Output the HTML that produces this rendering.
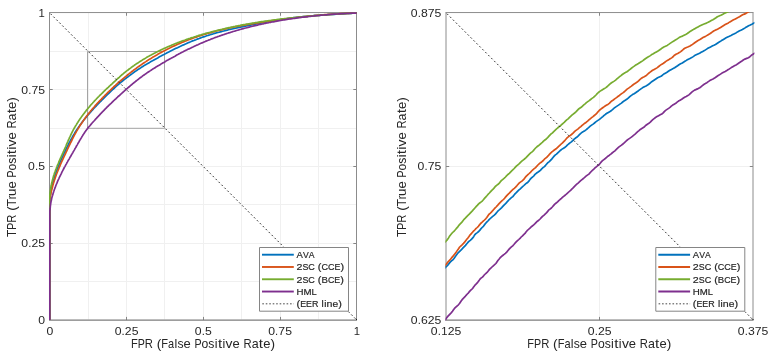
<!DOCTYPE html>
<html><head><meta charset="utf-8"><title>ROC curves</title>
<style>
html,body{margin:0;padding:0;background:#fff;}
body{width:775px;height:356px;overflow:hidden;font-family:"Liberation Sans",sans-serif;}
svg{display:block;will-change:transform;opacity:0.999;}
</style></head><body>
<svg width="775" height="356" viewBox="0 0 775 356" font-family="'Liberation Sans', sans-serif" stroke-linejoin="round">
<rect width="775" height="356" fill="#fff"/>
<clipPath id="c0"><rect x="48.90" y="11.90" width="309.00" height="308.90"/></clipPath>
<path d="M88.50,12.50 V319.50 M126.50,12.50 V319.50 M164.50,12.50 V319.50 M203.50,12.50 V319.50 M241.50,12.50 V319.50 M280.50,12.50 V319.50 M318.50,12.50 V319.50 M49.50,281.50 H356.50 M49.50,243.50 H356.50 M49.50,204.50 H356.50 M49.50,166.50 H356.50 M49.50,128.50 H356.50 M49.50,89.50 H356.50 M49.50,51.50 H356.50" stroke="#f0f0f0" stroke-width="1" fill="none"/>
<path d="M126.50,320.10 v-3.20 M126.50,12.55 v3.20 M203.50,320.10 v-3.20 M203.50,12.55 v3.20 M280.50,320.10 v-3.20 M280.50,12.55 v3.20 M49.50,243.50 h3.20 M356.50,243.50 h-3.20 M49.50,166.50 h3.20 M356.50,166.50 h-3.20 M49.50,89.50 h3.20 M356.50,89.50 h-3.20" stroke="#858585" stroke-width="1" fill="none"/>
<path d="M49.00,12.55 H357.00 M49.50,12.55 V320.10 M356.50,12.55 V320.10" fill="none" stroke="#8c8c8c" stroke-width="1"/>
<path d="M49.00,320.10 H357.00" fill="none" stroke="#7c7c7c" stroke-width="1.15"/>
<rect x="87.5" y="51.5" width="77" height="76.8" fill="none" stroke="#a4a4a4" stroke-width="1"/>
<g clip-path="url(#c0)" fill="none" stroke-linejoin="round" stroke-linecap="butt">
<path d="M49.8,320.0 L49.8,318.5 L49.8,317.1 L49.8,315.6 L49.8,314.1 L49.8,312.7 L49.8,311.2 L49.8,309.7 L49.8,308.3 L49.8,306.8 L49.8,305.3 L49.8,303.9 L49.8,302.4 L49.8,300.9 L49.8,299.5 L49.8,298.0 L49.8,296.6 L49.8,295.1 L49.8,293.6 L49.8,292.2 L49.8,290.7 L49.8,289.2 L49.8,287.8 L49.8,286.3 L49.8,284.8 L49.8,283.4 L49.8,281.9 L49.8,280.4 L49.8,279.0 L49.8,277.5 L49.8,276.0 L49.8,274.6 L49.8,273.1 L49.8,271.6 L49.8,270.2 L49.8,268.7 L49.8,267.2 L49.8,265.8 L49.8,264.3 L49.8,262.8 L49.8,261.4 L49.8,259.9 L49.8,258.5 L49.8,257.0 L49.8,255.5 L49.8,254.1 L49.8,252.6 L49.8,251.1 L49.8,249.7 L49.8,248.2 L49.8,246.7 L49.8,245.3 L49.8,243.8 L49.8,242.3 L49.8,240.9 L49.8,239.4 L49.8,237.9 L49.8,236.5 L49.8,235.0 L49.8,233.5 L49.8,232.1 L49.8,230.6 L49.8,229.1 L49.8,227.9 L49.8,227.7 L49.8,226.2 L49.8,224.7 L49.8,223.2 L49.8,221.6 L49.8,220.0 L49.8,218.5 L49.8,216.9 L49.8,215.3 L49.8,213.7 L49.8,212.2 L49.8,210.7 L49.8,209.3 L49.8,207.9 L49.8,206.5 L49.8,205.1 L49.8,203.7 L49.8,202.3 L49.8,201.0 L49.8,199.8 L49.8,199.7 L49.8,198.4 L49.9,197.1 L50.1,195.8 L50.3,194.5 L50.5,193.3 L50.7,192.0 L50.9,190.9 L51.0,190.8 L51.2,189.6 L51.5,188.4 L51.7,187.2 L52.0,186.0 L52.3,184.8 L52.6,183.6 L52.9,182.5 L53.2,181.3 L53.4,180.6 L53.5,180.2 L53.9,179.0 L54.2,177.9 L54.6,176.8 L54.9,175.7 L55.3,174.6 L55.7,173.5 L56.0,172.4 L56.4,171.3 L56.6,170.9 L56.8,170.3 L57.2,169.2 L57.6,168.2 L58.0,167.1 L58.5,166.1 L58.9,165.0 L59.3,164.0 L59.7,162.9 L60.2,161.9 L60.6,160.9 L61.1,159.9 L61.5,158.9 L62.0,157.9 L62.4,156.8 L62.9,155.8 L63.4,154.8 L63.8,153.8 L64.3,152.9 L64.8,151.9 L65.3,150.9 L65.7,149.9 L66.2,148.9 L66.7,147.9 L66.8,147.6 L67.2,146.9 L67.7,146.0 L68.2,145.0 L68.6,144.0 L69.1,143.0 L69.6,142.1 L70.1,141.1 L70.6,140.1 L71.2,139.2 L71.7,138.2 L72.2,137.3 L72.7,136.3 L72.8,136.1 L73.3,135.4 L73.8,134.5 L74.4,133.6 L74.9,132.7 L75.5,131.8 L76.0,130.9 L76.6,130.0 L77.2,129.1 L77.8,128.2 L78.4,127.4 L79.0,126.5 L79.6,125.7 L80.2,124.8 L80.9,124.0 L81.5,123.1 L82.1,122.3 L82.7,121.5 L83.4,120.6 L83.6,120.4 L84.0,119.8 L84.7,119.0 L85.3,118.2 L86.0,117.4 L86.7,116.6 L87.3,115.8 L88.0,115.0 L88.0,115.0 L88.7,114.2 L89.4,113.4 L90.1,112.7 L90.7,111.9 L91.4,111.1 L91.6,110.9 L92.1,110.3 L92.8,109.6 L93.5,108.8 L94.2,108.0 L94.9,107.3 L95.6,106.5 L96.4,105.8 L97.1,105.0 L97.8,104.3 L98.5,103.5 L99.2,102.8 L100.0,102.0 L100.7,101.3 L101.4,100.6 L102.1,99.8 L102.9,99.1 L103.6,98.4 L104.3,97.6 L105.1,96.9 L105.8,96.2 L106.6,95.4 L107.3,94.7 L108.0,94.0 L108.6,93.5 L108.8,93.3 L109.5,92.6 L110.3,91.8 L111.0,91.1 L111.8,90.4 L112.5,89.7 L113.3,89.0 L114.1,88.3 L114.8,87.6 L115.6,86.9 L116.4,86.2 L117.1,85.5 L117.9,84.8 L118.7,84.1 L119.5,83.5 L119.8,83.2 L120.3,82.8 L121.1,82.1 L121.9,81.5 L122.7,80.8 L123.5,80.2 L124.3,79.5 L125.2,78.9 L126.0,78.2 L126.8,77.6 L127.7,77.0 L128.5,76.4 L129.1,75.9 L129.3,75.7 L130.2,75.1 L131.0,74.5 L131.9,73.9 L132.7,73.3 L133.6,72.6 L134.4,72.0 L135.3,71.4 L136.2,70.8 L137.0,70.2 L137.9,69.6 L138.8,69.1 L139.7,68.5 L140.5,67.9 L140.9,67.7 L141.4,67.3 L142.3,66.8 L143.2,66.2 L144.1,65.6 L145.1,65.1 L146.0,64.5 L146.9,64.0 L147.8,63.4 L148.7,62.9 L149.7,62.4 L150.6,61.8 L151.5,61.3 L152.5,60.8 L153.4,60.3 L154.4,59.7 L155.3,59.2 L156.3,58.7 L156.7,58.5 L157.2,58.2 L158.1,57.7 L159.1,57.1 L160.0,56.6 L161.0,56.1 L161.9,55.6 L162.9,55.1 L163.9,54.6 L164.7,54.1 L164.8,54.1 L165.8,53.6 L166.7,53.1 L167.7,52.6 L168.7,52.1 L169.6,51.6 L170.6,51.1 L171.6,50.6 L172.6,50.1 L173.5,49.6 L174.5,49.1 L175.5,48.6 L176.5,48.1 L177.5,47.7 L178.5,47.2 L179.5,46.7 L180.5,46.3 L181.5,45.8 L182.5,45.3 L183.5,44.9 L184.5,44.4 L185.5,44.0 L186.5,43.5 L187.5,43.1 L188.6,42.6 L189.6,42.2 L190.6,41.8 L191.7,41.3 L192.7,40.9 L193.8,40.5 L194.8,40.1 L195.9,39.7 L196.9,39.3 L198.0,38.9 L199.1,38.5 L200.1,38.1 L201.2,37.7 L202.3,37.3 L203.4,36.9 L203.6,36.9 L204.5,36.6 L205.6,36.2 L206.7,35.8 L207.8,35.5 L208.9,35.1 L210.0,34.8 L211.1,34.4 L212.3,34.1 L213.4,33.8 L214.5,33.4 L215.7,33.1 L216.8,32.8 L218.0,32.5 L219.1,32.2 L220.3,31.9 L221.4,31.6 L222.6,31.3 L223.8,31.0 L224.9,30.7 L226.1,30.4 L227.3,30.1 L228.5,29.8 L229.7,29.5 L230.9,29.2 L232.0,29.0 L233.2,28.7 L234.4,28.4 L235.6,28.2 L236.8,27.9 L238.0,27.6 L239.2,27.4 L240.5,27.1 L241.4,26.9 L241.7,26.9 L242.9,26.6 L244.1,26.4 L245.3,26.1 L246.5,25.9 L247.7,25.6 L249.0,25.4 L250.2,25.1 L251.4,24.9 L252.6,24.7 L253.9,24.4 L255.1,24.2 L256.3,24.0 L257.6,23.7 L258.8,23.5 L260.0,23.3 L261.3,23.0 L262.5,22.8 L263.7,22.6 L265.0,22.3 L265.2,22.3 L266.2,22.1 L267.4,21.9 L268.7,21.7 L269.9,21.4 L271.2,21.2 L272.4,21.0 L273.7,20.8 L274.9,20.5 L276.2,20.3 L277.4,20.1 L278.7,19.9 L279.9,19.7 L280.2,19.7 L281.2,19.5 L282.5,19.3 L283.7,19.1 L285.0,18.9 L286.3,18.8 L287.6,18.6 L288.9,18.4 L290.2,18.2 L291.5,18.1 L292.8,17.9 L294.1,17.7 L295.4,17.6 L296.7,17.4 L298.0,17.3 L299.3,17.1 L300.7,17.0 L302.0,16.9 L303.3,16.7 L304.6,16.6 L306.0,16.5 L307.3,16.3 L308.7,16.2 L310.0,16.1 L311.4,16.0 L312.7,15.8 L314.1,15.7 L315.4,15.6 L316.8,15.5 L318.1,15.4 L318.3,15.4 L319.5,15.3 L320.8,15.2 L322.2,15.1 L323.6,15.0 L324.9,14.9 L326.3,14.8 L327.7,14.7 L329.1,14.6 L330.4,14.5 L331.8,14.4 L333.2,14.3 L334.6,14.3 L335.9,14.2 L337.3,14.1 L338.7,14.0 L340.1,13.9 L341.5,13.8 L342.9,13.8 L344.2,13.7 L345.6,13.6 L347.0,13.5 L348.4,13.5 L349.8,13.4 L351.2,13.3 L352.6,13.2 L354.0,13.2 L355.4,13.1 L356.8,13.0" stroke="#0072BD" stroke-width="1.7"/>
<path d="M49.8,320.0 L49.8,318.5 L49.8,317.1 L49.8,315.6 L49.8,314.1 L49.8,312.7 L49.8,311.2 L49.8,309.7 L49.8,308.3 L49.8,306.8 L49.8,305.3 L49.8,303.9 L49.8,302.4 L49.8,300.9 L49.8,299.5 L49.8,298.0 L49.8,296.6 L49.8,295.1 L49.8,293.6 L49.8,292.2 L49.8,290.7 L49.8,289.2 L49.8,287.8 L49.8,286.3 L49.8,284.8 L49.8,283.4 L49.8,281.9 L49.8,280.4 L49.8,279.0 L49.8,277.5 L49.8,276.0 L49.8,274.6 L49.8,273.1 L49.8,271.6 L49.8,270.2 L49.8,268.7 L49.8,267.2 L49.8,265.8 L49.8,264.3 L49.8,262.8 L49.8,261.4 L49.8,259.9 L49.8,258.5 L49.8,257.0 L49.8,255.5 L49.8,254.1 L49.8,252.6 L49.8,251.1 L49.8,249.7 L49.8,248.2 L49.8,246.7 L49.8,245.3 L49.8,243.8 L49.8,242.3 L49.8,240.9 L49.8,239.4 L49.8,237.9 L49.8,236.5 L49.8,235.0 L49.8,233.5 L49.8,232.1 L49.8,230.6 L49.8,229.1 L49.8,227.9 L49.8,227.7 L49.8,226.2 L49.8,224.7 L49.8,223.2 L49.8,221.6 L49.8,220.0 L49.8,218.5 L49.8,216.9 L49.8,215.3 L49.8,213.8 L49.8,212.3 L49.8,210.8 L49.8,209.4 L49.8,208.0 L49.8,206.6 L49.8,205.2 L49.8,203.9 L49.8,202.8 L49.8,202.6 L49.8,201.2 L49.8,199.9 L50.0,198.7 L50.2,197.4 L50.4,196.1 L50.7,194.9 L50.9,193.6 L51.1,192.4 L51.4,191.2 L51.4,191.0 L51.7,190.0 L52.0,188.9 L52.3,187.7 L52.6,186.5 L52.9,185.4 L53.2,184.2 L53.5,183.1 L53.9,182.0 L54.2,180.9 L54.3,180.6 L54.6,179.8 L55.0,178.7 L55.3,177.6 L55.7,176.5 L56.1,175.4 L56.5,174.3 L56.9,173.3 L57.3,172.2 L57.7,171.2 L57.8,170.9 L58.1,170.1 L58.6,169.1 L59.0,168.0 L59.4,167.0 L59.9,166.0 L60.3,165.0 L60.7,163.9 L61.2,162.9 L61.6,161.9 L62.1,160.9 L62.6,159.9 L63.0,158.9 L63.5,157.9 L63.9,156.9 L64.4,155.9 L64.9,154.9 L65.4,153.9 L65.8,152.9 L66.3,151.9 L66.8,150.9 L67.2,149.9 L67.7,148.9 L68.2,147.9 L68.3,147.7 L68.6,146.9 L69.1,145.9 L69.6,144.9 L70.1,143.9 L70.5,142.9 L71.0,142.0 L71.5,141.0 L72.0,140.0 L72.4,139.0 L72.9,138.0 L73.4,137.1 L73.9,136.1 L74.1,135.8 L74.4,135.1 L74.9,134.2 L75.5,133.2 L76.0,132.3 L76.5,131.4 L77.1,130.4 L77.6,129.5 L78.2,128.6 L78.7,127.7 L79.3,126.8 L79.8,125.9 L80.4,125.0 L81.0,124.1 L81.6,123.2 L82.2,122.4 L82.8,121.5 L83.4,120.6 L83.8,120.0 L84.0,119.8 L84.6,118.9 L85.2,118.1 L85.8,117.2 L86.5,116.4 L87.1,115.6 L87.7,114.7 L88.0,114.4 L88.4,113.9 L89.0,113.1 L89.7,112.3 L90.3,111.5 L90.8,110.9 L91.0,110.7 L91.7,109.9 L92.3,109.1 L93.0,108.3 L93.7,107.5 L94.4,106.7 L95.0,105.9 L95.7,105.1 L96.4,104.4 L97.1,103.6 L97.8,102.8 L98.5,102.1 L98.9,101.6 L99.2,101.3 L99.9,100.6 L100.7,99.8 L101.4,99.1 L102.1,98.3 L102.8,97.6 L103.5,96.8 L104.3,96.1 L105.0,95.3 L105.7,94.6 L106.5,93.9 L106.8,93.6 L107.2,93.2 L107.9,92.4 L108.7,91.7 L109.4,91.0 L110.2,90.3 L110.9,89.6 L111.7,88.8 L112.4,88.1 L113.2,87.4 L113.9,86.7 L114.7,86.0 L115.5,85.3 L116.2,84.6 L117.0,83.9 L117.8,83.2 L118.6,82.5 L118.9,82.2 L119.3,81.9 L120.1,81.2 L120.9,80.5 L121.7,79.8 L122.5,79.1 L123.3,78.5 L124.1,77.8 L124.9,77.1 L125.7,76.5 L126.4,75.9 L126.5,75.8 L127.3,75.2 L128.1,74.5 L128.9,73.9 L129.7,73.2 L130.6,72.6 L131.4,71.9 L132.2,71.3 L133.1,70.7 L133.9,70.0 L134.7,69.4 L135.6,68.8 L136.4,68.2 L137.1,67.6 L137.3,67.5 L138.1,66.9 L139.0,66.3 L139.8,65.7 L140.7,65.1 L141.6,64.5 L142.4,63.9 L143.3,63.3 L144.2,62.7 L145.1,62.1 L145.9,61.6 L146.8,61.0 L147.7,60.4 L148.6,59.8 L149.5,59.3 L150.4,58.7 L151.3,58.2 L151.3,58.2 L152.2,57.6 L153.1,57.0 L154.1,56.5 L155.0,56.0 L155.9,55.4 L156.8,54.9 L157.8,54.3 L158.7,53.8 L159.6,53.3 L160.6,52.8 L161.5,52.2 L162.5,51.7 L163.3,51.3 L163.4,51.2 L164.4,50.7 L165.4,50.2 L166.3,49.7 L167.3,49.2 L168.3,48.7 L169.3,48.2 L170.2,47.8 L171.2,47.3 L172.2,46.8 L173.2,46.3 L174.2,45.9 L175.2,45.4 L176.2,45.0 L177.2,44.5 L178.2,44.0 L179.3,43.6 L180.3,43.2 L181.3,42.7 L182.4,42.3 L183.4,41.9 L184.4,41.4 L185.5,41.0 L186.5,40.6 L187.6,40.2 L188.6,39.8 L189.7,39.4 L190.8,39.0 L191.8,38.6 L192.9,38.2 L194.0,37.8 L195.1,37.4 L196.2,37.1 L197.3,36.7 L198.4,36.3 L199.5,35.9 L200.6,35.6 L201.7,35.2 L202.8,34.9 L203.2,34.8 L203.9,34.5 L205.0,34.2 L206.2,33.9 L207.3,33.5 L208.4,33.2 L209.6,32.9 L210.7,32.6 L211.9,32.2 L213.0,31.9 L214.2,31.6 L215.3,31.3 L216.5,31.0 L217.7,30.7 L218.9,30.4 L220.0,30.1 L221.2,29.9 L222.4,29.6 L223.6,29.3 L224.8,29.0 L226.0,28.8 L227.2,28.5 L228.4,28.2 L229.6,28.0 L230.8,27.7 L232.0,27.5 L233.2,27.2 L234.4,27.0 L235.7,26.7 L236.9,26.5 L238.1,26.2 L239.3,26.0 L240.6,25.8 L241.1,25.7 L241.8,25.5 L243.0,25.3 L244.3,25.1 L245.5,24.9 L246.8,24.7 L248.0,24.4 L249.3,24.2 L250.5,24.0 L251.8,23.8 L253.0,23.6 L254.3,23.4 L255.6,23.2 L256.8,23.0 L258.1,22.8 L259.4,22.6 L260.6,22.4 L261.9,22.2 L263.2,22.0 L264.5,21.8 L265.4,21.7 L265.7,21.6 L267.0,21.4 L268.3,21.3 L269.6,21.1 L270.9,20.9 L272.1,20.7 L273.4,20.5 L274.7,20.4 L276.0,20.2 L277.3,20.0 L278.6,19.8 L279.9,19.7 L280.4,19.6 L281.2,19.5 L282.5,19.3 L283.8,19.1 L285.1,19.0 L286.4,18.8 L287.7,18.6 L289.0,18.5 L290.3,18.3 L291.6,18.2 L292.9,18.0 L294.2,17.8 L295.5,17.7 L296.8,17.5 L298.1,17.4 L299.4,17.2 L300.7,17.1 L302.0,16.9 L303.4,16.8 L304.7,16.6 L306.0,16.5 L307.3,16.3 L308.7,16.2 L310.0,16.1 L311.3,15.9 L312.7,15.8 L314.0,15.7 L315.3,15.5 L316.7,15.4 L318.0,15.3 L318.2,15.3 L319.3,15.2 L320.7,15.0 L322.0,14.9 L323.4,14.8 L324.7,14.7 L326.1,14.6 L327.5,14.5 L328.8,14.4 L330.2,14.3 L331.6,14.2 L332.9,14.1 L334.3,14.0 L335.7,13.9 L337.1,13.8 L338.5,13.8 L339.8,13.7 L341.2,13.6 L342.6,13.5 L344.0,13.5 L345.4,13.4 L346.8,13.3 L348.2,13.3 L349.6,13.2 L351.1,13.2 L352.5,13.1 L353.9,13.1 L355.3,13.0 L356.8,13.0" stroke="#D95319" stroke-width="1.7"/>
<path d="M49.8,320.0 L49.8,318.5 L49.8,317.1 L49.8,315.6 L49.8,314.1 L49.8,312.7 L49.8,311.2 L49.8,309.7 L49.8,308.3 L49.8,306.8 L49.8,305.3 L49.8,303.9 L49.8,302.4 L49.8,300.9 L49.8,299.5 L49.8,298.0 L49.8,296.6 L49.8,295.1 L49.8,293.6 L49.8,292.2 L49.8,290.7 L49.8,289.2 L49.8,287.8 L49.8,286.3 L49.8,284.8 L49.8,283.4 L49.8,281.9 L49.8,280.4 L49.8,279.0 L49.8,277.5 L49.8,276.0 L49.8,274.6 L49.8,273.1 L49.8,271.6 L49.8,270.2 L49.8,268.7 L49.8,267.2 L49.8,265.8 L49.8,264.3 L49.8,262.8 L49.8,261.4 L49.8,259.9 L49.8,258.5 L49.8,257.0 L49.8,255.5 L49.8,254.1 L49.8,252.6 L49.8,251.1 L49.8,249.7 L49.8,248.2 L49.8,246.7 L49.8,245.3 L49.8,243.8 L49.8,242.3 L49.8,240.9 L49.8,239.4 L49.8,237.9 L49.8,236.5 L49.8,235.0 L49.8,233.5 L49.8,232.1 L49.8,230.6 L49.8,229.1 L49.8,227.9 L49.8,227.7 L49.8,226.2 L49.8,224.7 L49.8,223.2 L49.8,221.7 L49.8,220.1 L49.8,218.6 L49.8,217.0 L49.8,215.4 L49.8,213.9 L49.8,212.3 L49.8,210.8 L49.8,209.4 L49.8,207.9 L49.8,206.5 L49.8,205.1 L49.8,203.6 L49.8,202.2 L49.8,200.9 L49.8,199.5 L49.8,198.1 L49.8,196.9 L49.8,196.8 L49.8,195.5 L49.9,194.1 L50.1,192.8 L50.2,191.5 L50.3,190.8 L50.4,190.2 L50.6,189.0 L50.8,187.7 L51.0,186.5 L51.3,185.3 L51.5,184.0 L51.8,182.8 L52.1,181.6 L52.3,180.6 L52.4,180.5 L52.7,179.3 L53.0,178.1 L53.3,177.0 L53.6,175.9 L54.0,174.8 L54.3,173.7 L54.7,172.6 L55.1,171.5 L55.3,170.9 L55.5,170.4 L55.9,169.3 L56.3,168.3 L56.7,167.2 L57.1,166.2 L57.5,165.1 L58.0,164.1 L58.4,163.1 L58.8,162.0 L59.3,161.0 L59.7,160.0 L60.2,159.0 L60.6,157.9 L61.1,156.9 L61.5,155.9 L62.0,154.9 L62.4,153.9 L62.9,152.9 L63.3,151.9 L63.8,150.9 L64.2,149.9 L64.7,148.8 L65.1,148.0 L65.1,147.8 L65.6,146.8 L66.0,145.8 L66.4,144.7 L66.9,143.7 L67.3,142.7 L67.8,141.6 L68.2,140.6 L68.6,139.6 L69.1,138.6 L69.5,137.6 L70.0,136.6 L70.3,135.9 L70.5,135.6 L70.9,134.6 L71.4,133.6 L71.9,132.6 L72.4,131.6 L72.9,130.7 L73.4,129.7 L73.9,128.8 L74.5,127.8 L75.0,126.9 L75.5,126.0 L76.1,125.1 L76.6,124.2 L77.2,123.3 L77.8,122.4 L78.3,121.5 L78.9,120.6 L79.5,119.8 L79.5,119.7 L80.1,118.8 L80.7,118.0 L81.3,117.1 L81.9,116.2 L82.5,115.4 L83.2,114.5 L83.8,113.7 L84.4,112.9 L85.1,112.0 L85.7,111.2 L86.3,110.4 L87.0,109.6 L87.7,108.8 L88.0,108.4 L88.3,108.0 L89.0,107.2 L89.7,106.4 L90.3,105.6 L91.0,104.8 L91.7,104.0 L92.4,103.3 L93.1,102.5 L93.8,101.7 L94.3,101.1 L94.5,101.0 L95.2,100.2 L95.9,99.5 L96.6,98.7 L97.3,98.0 L98.1,97.2 L98.8,96.5 L99.5,95.7 L100.2,95.0 L101.0,94.3 L101.7,93.5 L101.9,93.4 L102.5,92.8 L103.2,92.1 L103.9,91.4 L104.7,90.7 L105.4,89.9 L106.2,89.2 L106.9,88.5 L107.7,87.8 L108.5,87.1 L109.2,86.4 L110.0,85.7 L110.7,85.0 L111.5,84.3 L112.3,83.6 L113.0,82.9 L113.8,82.2 L114.6,81.5 L115.3,80.8 L116.1,80.1 L116.4,79.7 L116.8,79.4 L117.6,78.7 L118.4,78.0 L119.2,77.3 L119.9,76.6 L120.7,75.9 L120.7,75.9 L121.5,75.2 L122.3,74.5 L123.1,73.9 L123.9,73.2 L124.7,72.5 L125.5,71.9 L126.3,71.2 L126.4,71.1 L127.1,70.6 L128.0,70.0 L128.8,69.3 L129.6,68.7 L130.5,68.1 L131.1,67.6 L131.3,67.4 L132.2,66.8 L133.0,66.2 L133.9,65.6 L134.7,65.0 L135.6,64.4 L136.5,63.8 L137.4,63.2 L138.2,62.7 L139.1,62.1 L140.0,61.5 L140.9,60.9 L141.8,60.4 L142.7,59.8 L143.6,59.3 L144.5,58.7 L145.5,58.2 L145.6,58.1 L146.4,57.6 L147.3,57.1 L148.2,56.5 L149.2,56.0 L150.1,55.5 L151.1,55.0 L152.0,54.5 L153.0,54.0 L153.9,53.4 L154.9,52.9 L155.9,52.4 L156.8,52.0 L157.8,51.5 L158.2,51.3 L158.8,51.0 L159.8,50.5 L160.8,50.0 L161.8,49.5 L162.8,49.1 L163.8,48.6 L164.7,48.2 L164.8,48.2 L165.8,47.7 L166.8,47.2 L167.8,46.8 L168.8,46.4 L169.9,45.9 L170.9,45.5 L171.9,45.0 L173.0,44.6 L174.0,44.2 L175.0,43.8 L176.1,43.4 L177.1,42.9 L178.2,42.5 L179.3,42.1 L180.3,41.7 L181.4,41.3 L182.5,40.9 L183.5,40.5 L184.6,40.2 L185.7,39.8 L186.8,39.4 L187.9,39.0 L189.0,38.6 L190.1,38.3 L191.2,37.9 L192.3,37.5 L193.4,37.2 L194.5,36.8 L195.6,36.5 L196.7,36.1 L197.8,35.8 L198.9,35.4 L200.1,35.1 L201.2,34.8 L202.3,34.4 L203.5,34.1 L203.5,34.1 L204.6,33.8 L205.7,33.4 L206.9,33.1 L208.0,32.8 L209.2,32.5 L210.4,32.2 L211.5,31.9 L212.7,31.6 L213.8,31.3 L215.0,31.0 L216.2,30.7 L217.3,30.4 L218.5,30.1 L219.7,29.8 L220.9,29.5 L222.1,29.3 L223.3,29.0 L224.4,28.7 L225.6,28.4 L226.8,28.2 L228.0,27.9 L229.2,27.6 L230.4,27.4 L231.7,27.1 L232.9,26.9 L234.1,26.6 L235.3,26.4 L236.5,26.1 L237.7,25.9 L239.0,25.6 L240.2,25.4 L241.2,25.2 L241.4,25.2 L242.7,24.9 L243.9,24.7 L245.1,24.5 L246.4,24.2 L247.6,24.0 L248.9,23.8 L250.1,23.6 L251.4,23.4 L252.6,23.2 L253.9,23.0 L255.1,22.7 L256.4,22.5 L257.7,22.3 L258.9,22.1 L260.2,21.9 L261.5,21.7 L262.7,21.6 L264.0,21.4 L265.2,21.2 L265.3,21.2 L266.6,21.0 L267.8,20.8 L269.1,20.6 L270.4,20.5 L271.7,20.3 L273.0,20.1 L274.3,19.9 L275.6,19.8 L276.9,19.6 L278.2,19.4 L279.5,19.3 L280.3,19.2 L280.8,19.1 L282.1,18.9 L283.4,18.8 L284.7,18.6 L286.0,18.5 L287.3,18.3 L288.7,18.2 L290.0,18.0 L291.3,17.9 L292.6,17.8 L294.0,17.6 L295.3,17.5 L296.6,17.3 L297.9,17.2 L299.3,17.1 L300.6,16.9 L301.9,16.8 L303.3,16.7 L304.6,16.6 L306.0,16.4 L307.3,16.3 L308.7,16.2 L310.0,16.1 L311.4,16.0 L312.7,15.8 L314.1,15.7 L315.4,15.6 L316.8,15.5 L318.1,15.4 L318.3,15.4 L319.5,15.3 L320.8,15.2 L322.2,15.1 L323.6,15.0 L324.9,14.9 L326.3,14.8 L327.7,14.7 L329.0,14.6 L330.4,14.5 L331.8,14.4 L333.2,14.3 L334.5,14.2 L335.9,14.2 L337.3,14.1 L338.7,14.0 L340.1,13.9 L341.4,13.8 L342.8,13.7 L344.2,13.7 L345.6,13.6 L347.0,13.5 L348.4,13.4 L349.8,13.4 L351.2,13.3 L352.6,13.2 L354.0,13.1 L355.4,13.1 L356.7,13.0" stroke="#77AC30" stroke-width="1.7"/>
<path d="M49.8,320.0 L49.8,318.5 L49.8,317.1 L49.8,315.6 L49.8,314.1 L49.8,312.7 L49.8,311.2 L49.8,309.7 L49.8,308.3 L49.8,306.8 L49.8,305.3 L49.8,303.9 L49.8,302.4 L49.8,300.9 L49.8,299.5 L49.8,298.0 L49.8,296.6 L49.8,295.1 L49.8,293.6 L49.8,292.2 L49.8,290.7 L49.8,289.2 L49.8,287.8 L49.8,286.3 L49.8,284.8 L49.8,283.4 L49.8,281.9 L49.8,280.4 L49.8,279.0 L49.8,277.5 L49.8,276.0 L49.8,274.6 L49.8,273.1 L49.8,271.6 L49.8,270.2 L49.8,268.7 L49.8,267.2 L49.8,265.8 L49.8,264.3 L49.8,262.8 L49.8,261.4 L49.8,259.9 L49.8,258.5 L49.8,257.0 L49.8,255.5 L49.8,254.1 L49.8,252.6 L49.8,251.1 L49.8,249.7 L49.8,248.2 L49.8,246.7 L49.8,245.3 L49.8,243.8 L49.8,242.3 L49.8,240.9 L49.8,239.4 L49.8,237.9 L49.8,236.5 L49.8,235.0 L49.8,234.0 L49.8,233.5 L49.8,232.1 L49.8,230.6 L49.8,229.1 L49.8,227.6 L49.8,226.1 L49.8,224.6 L49.8,223.1 L49.8,221.7 L49.8,220.2 L49.8,218.7 L49.8,217.3 L49.8,215.8 L49.8,214.4 L49.8,213.0 L49.8,213.0 L49.8,211.6 L49.9,210.3 L50.1,209.0 L50.2,207.6 L50.3,207.0 L50.3,206.3 L50.5,205.0 L50.7,203.7 L50.9,202.4 L51.1,201.2 L51.1,201.2 L51.4,200.0 L51.6,198.8 L51.9,197.6 L52.2,196.5 L52.6,195.3 L52.9,194.2 L53.2,193.1 L53.6,192.0 L53.9,190.9 L54.0,190.9 L54.3,189.8 L54.7,188.7 L55.1,187.6 L55.5,186.6 L55.9,185.5 L56.3,184.5 L56.8,183.4 L57.2,182.4 L57.6,181.3 L58.0,180.4 L58.1,180.3 L58.5,179.3 L59.0,178.3 L59.4,177.3 L59.9,176.3 L60.4,175.3 L60.9,174.3 L61.4,173.3 L61.8,172.4 L62.3,171.4 L62.6,170.9 L62.8,170.4 L63.3,169.5 L63.8,168.5 L64.3,167.5 L64.9,166.6 L65.4,165.6 L65.9,164.7 L66.4,163.8 L66.9,162.8 L67.5,161.9 L68.0,160.9 L68.5,160.0 L69.1,159.1 L69.6,158.1 L70.1,157.2 L70.7,156.3 L71.2,155.3 L71.7,154.4 L72.3,153.5 L72.8,152.6 L73.3,151.6 L73.9,150.7 L74.4,149.8 L74.9,148.8 L75.5,147.9 L75.5,147.9 L76.0,147.0 L76.5,146.0 L77.1,145.1 L77.6,144.2 L78.1,143.2 L78.7,142.3 L79.2,141.4 L79.7,140.4 L80.3,139.5 L80.8,138.6 L81.4,137.7 L81.9,136.8 L82.5,135.9 L82.6,135.7 L83.0,135.0 L83.6,134.1 L84.2,133.2 L84.8,132.3 L85.4,131.4 L86.0,130.6 L86.6,129.7 L87.3,128.9 L87.9,128.1 L88.0,127.9 L88.5,127.3 L89.2,126.5 L89.9,125.7 L90.3,125.2 L90.6,124.9 L91.2,124.1 L91.9,123.3 L92.6,122.5 L93.3,121.7 L94.0,121.0 L94.7,120.2 L95.4,119.4 L96.1,118.7 L96.8,117.9 L97.5,117.1 L98.2,116.4 L98.9,115.6 L99.6,114.9 L100.3,114.1 L101.0,113.3 L101.7,112.6 L102.4,111.9 L103.2,111.1 L103.4,110.9 L103.9,110.4 L104.6,109.6 L105.3,108.9 L106.1,108.2 L106.8,107.4 L107.5,106.7 L108.3,106.0 L109.0,105.2 L109.8,104.5 L110.5,103.8 L111.3,103.1 L112.0,102.4 L112.8,101.6 L113.5,100.9 L114.3,100.2 L115.0,99.5 L115.8,98.8 L116.5,98.1 L117.3,97.4 L118.0,96.7 L118.8,96.0 L119.6,95.3 L120.3,94.6 L121.1,93.9 L121.5,93.5 L121.9,93.2 L122.6,92.5 L123.4,91.8 L124.2,91.1 L125.0,90.4 L125.7,89.7 L126.1,89.4 L126.5,89.0 L127.3,88.4 L128.1,87.7 L128.9,87.0 L129.7,86.3 L130.4,85.6 L131.2,85.0 L132.0,84.3 L132.8,83.6 L133.6,83.0 L134.4,82.3 L135.3,81.7 L136.1,81.0 L136.9,80.4 L137.7,79.7 L138.5,79.1 L139.0,78.7 L139.4,78.4 L140.2,77.8 L141.0,77.2 L141.9,76.6 L142.1,76.4 L142.7,75.9 L143.6,75.3 L144.4,74.7 L145.3,74.1 L146.2,73.5 L147.0,72.9 L147.9,72.3 L148.8,71.7 L149.7,71.1 L150.5,70.6 L151.4,70.0 L152.3,69.4 L153.2,68.8 L154.1,68.3 L155.0,67.7 L155.1,67.7 L155.9,67.1 L156.8,66.6 L157.7,66.0 L158.6,65.5 L159.6,64.9 L160.5,64.4 L161.4,63.8 L162.3,63.3 L163.2,62.7 L164.2,62.2 L164.7,61.9 L165.1,61.7 L166.0,61.1 L166.9,60.6 L167.9,60.1 L168.8,59.5 L169.7,59.0 L170.7,58.5 L171.6,57.9 L172.6,57.4 L173.5,56.9 L174.5,56.4 L175.4,55.9 L176.4,55.3 L177.3,54.8 L178.3,54.3 L179.2,53.8 L180.2,53.3 L181.1,52.8 L182.1,52.3 L183.1,51.8 L184.0,51.3 L185.0,50.8 L186.0,50.3 L187.0,49.8 L187.9,49.3 L188.9,48.9 L189.9,48.4 L190.9,47.9 L191.9,47.4 L192.9,47.0 L193.9,46.5 L194.9,46.0 L195.9,45.6 L196.9,45.1 L197.9,44.7 L198.9,44.2 L199.9,43.7 L200.9,43.3 L202.0,42.9 L203.0,42.4 L203.6,42.2 L204.0,42.0 L205.1,41.6 L206.1,41.1 L207.1,40.7 L208.2,40.3 L209.2,39.9 L210.3,39.5 L211.3,39.0 L212.4,38.6 L213.5,38.2 L214.5,37.8 L215.6,37.4 L216.7,37.0 L217.7,36.6 L218.8,36.3 L219.9,35.9 L221.0,35.5 L222.1,35.1 L223.2,34.7 L224.3,34.4 L225.4,34.0 L226.5,33.6 L227.6,33.3 L228.7,32.9 L229.8,32.6 L230.9,32.2 L232.0,31.9 L233.1,31.5 L234.3,31.2 L235.4,30.9 L236.5,30.5 L237.7,30.2 L238.8,29.9 L239.9,29.5 L241.1,29.2 L241.2,29.2 L242.2,28.9 L243.4,28.6 L244.5,28.3 L245.7,28.0 L246.9,27.7 L248.0,27.4 L249.2,27.1 L250.4,26.8 L251.5,26.5 L252.7,26.2 L253.9,25.9 L255.1,25.6 L256.3,25.4 L257.5,25.1 L258.7,24.8 L259.9,24.5 L261.1,24.3 L262.3,24.0 L263.5,23.8 L264.7,23.5 L265.2,23.4 L265.9,23.2 L267.1,23.0 L268.3,22.8 L269.5,22.5 L270.8,22.3 L272.0,22.0 L273.2,21.8 L274.5,21.6 L275.7,21.3 L276.9,21.1 L278.2,20.9 L279.4,20.7 L280.4,20.5 L280.7,20.5 L281.9,20.2 L283.2,20.0 L284.4,19.8 L285.7,19.6 L287.0,19.4 L288.2,19.2 L289.5,19.0 L290.8,18.8 L292.1,18.6 L293.3,18.5 L294.6,18.3 L295.9,18.1 L297.2,17.9 L298.5,17.7 L299.8,17.6 L301.1,17.4 L302.4,17.2 L303.7,17.1 L305.0,16.9 L306.3,16.8 L307.6,16.6 L308.9,16.5 L310.2,16.3 L311.6,16.2 L312.9,16.0 L314.2,15.9 L315.5,15.7 L316.9,15.6 L318.2,15.5 L318.2,15.5 L319.5,15.4 L320.9,15.2 L322.2,15.1 L323.6,15.0 L324.9,14.9 L326.3,14.8 L327.6,14.7 L329.0,14.5 L330.3,14.4 L331.7,14.3 L333.1,14.2 L334.5,14.1 L335.8,14.1 L337.2,14.0 L338.6,13.9 L340.0,13.8 L341.3,13.7 L342.7,13.6 L344.1,13.6 L345.5,13.5 L346.9,13.4 L348.3,13.3 L349.7,13.3 L351.1,13.2 L352.5,13.2 L353.9,13.1 L355.3,13.1 L356.8,13.0" stroke="#7E2F8E" stroke-width="1.7"/>
<path d="M49.75,13.00 L356.75,320.00" stroke="#262626" stroke-width="0.95" stroke-dasharray="1.8 2.37" stroke-dashoffset="-1.02"/>
</g>
<rect x="356.00" y="319.00" width="1" height="1" fill="#1a1a1a"/>
<g transform="translate(46.41 334.50)" font-size="11.303" fill="#262626"><text transform="translate(0.00 0) scale(1.080 1)">0</text></g>
<g transform="translate(114.67 334.50)" font-size="11.303" fill="#262626"><text transform="translate(0.00 0) scale(1.080 1)">0</text><text transform="translate(6.91 0) scale(1.000 1)">.</text><text transform="translate(10.18 0) scale(1.080 1)">2</text><text transform="translate(16.96 0) scale(1.080 1)">5</text></g>
<g transform="translate(194.82 334.50)" font-size="11.303" fill="#262626"><text transform="translate(0.00 0) scale(1.080 1)">0</text><text transform="translate(6.91 0) scale(1.000 1)">.</text><text transform="translate(10.18 0) scale(1.080 1)">5</text></g>
<g transform="translate(268.17 334.50)" font-size="11.303" fill="#262626"><text transform="translate(0.00 0) scale(1.080 1)">0</text><text transform="translate(6.91 0) scale(1.000 1)">.</text><text transform="translate(10.18 0) scale(1.080 1)">7</text><text transform="translate(16.96 0) scale(1.080 1)">5</text></g>
<g transform="translate(353.41 334.50)" font-size="11.303" fill="#262626"><text transform="translate(0.25 0) scale(1.000 1)">1</text></g>
<g transform="translate(38.21 323.80)" font-size="11.303" fill="#262626"><text transform="translate(0.00 0) scale(1.080 1)">0</text></g>
<g transform="translate(21.25 247.05)" font-size="11.303" fill="#262626"><text transform="translate(0.00 0) scale(1.080 1)">0</text><text transform="translate(6.91 0) scale(1.000 1)">.</text><text transform="translate(10.18 0) scale(1.080 1)">2</text><text transform="translate(16.96 0) scale(1.080 1)">5</text></g>
<g transform="translate(28.04 170.30)" font-size="11.303" fill="#262626"><text transform="translate(0.00 0) scale(1.080 1)">0</text><text transform="translate(6.91 0) scale(1.000 1)">.</text><text transform="translate(10.18 0) scale(1.080 1)">5</text></g>
<g transform="translate(21.25 93.55)" font-size="11.303" fill="#262626"><text transform="translate(0.00 0) scale(1.080 1)">0</text><text transform="translate(6.91 0) scale(1.000 1)">.</text><text transform="translate(10.18 0) scale(1.080 1)">7</text><text transform="translate(16.96 0) scale(1.080 1)">5</text></g>
<g transform="translate(38.21 16.80)" font-size="11.303" fill="#262626"><text transform="translate(0.25 0) scale(1.000 1)">1</text></g>
<g transform="translate(131.05 348.30)" font-size="12.432" fill="#262626"><text transform="translate(0.00 0) scale(0.889 1)">F</text><text transform="translate(6.72 0) scale(0.860 1)">P</text><text transform="translate(13.82 0) scale(0.908 1)">R</text><text transform="translate(25.71 0) scale(1.106 1)">(</text><text transform="translate(30.28 0) scale(0.889 1)">F</text><text transform="translate(37.03 0) scale(0.884 1)">a</text><text transform="translate(43.39 0) scale(1.000 1)">l</text><text transform="translate(46.41 0) scale(0.983 1)">s</text><text transform="translate(52.52 0) scale(1.044 1)">e</text><text transform="translate(63.44 0) scale(0.860 1)">P</text><text transform="translate(70.54 0) scale(0.978 1)">o</text><text transform="translate(77.30 0) scale(0.983 1)">s</text><text transform="translate(83.66 0) scale(1.000 1)">i</text><text transform="translate(86.87 0) scale(1.220 1)">t</text><text transform="translate(91.52 0) scale(1.000 1)">i</text><text transform="translate(94.53 0) scale(1.117 1)">v</text><text transform="translate(101.48 0) scale(1.044 1)">e</text><text transform="translate(112.43 0) scale(0.908 1)">R</text><text transform="translate(120.58 0) scale(1.003 1)">a</text><text transform="translate(127.70 0) scale(1.220 1)">t</text><text transform="translate(132.11 0) scale(1.044 1)">e</text><text transform="translate(139.33 0) scale(1.106 1)">)</text></g>
<g transform="rotate(-90 16.20 167.00) translate(-53.70 167.00)" font-size="12.432" fill="#262626"><text transform="translate(0.00 0) scale(0.944 1)">T</text><text transform="translate(7.14 0) scale(0.860 1)">P</text><text transform="translate(14.24 0) scale(0.908 1)">R</text><text transform="translate(26.12 0) scale(1.106 1)">(</text><text transform="translate(30.70 0) scale(0.944 1)">T</text><text transform="translate(37.64 0) scale(0.860 1)">r</text><text transform="translate(40.97 0) scale(1.076 1)">u</text><text transform="translate(48.40 0) scale(1.044 1)">e</text><text transform="translate(59.33 0) scale(0.860 1)">P</text><text transform="translate(66.43 0) scale(0.978 1)">o</text><text transform="translate(73.19 0) scale(0.983 1)">s</text><text transform="translate(79.55 0) scale(1.000 1)">i</text><text transform="translate(82.75 0) scale(1.220 1)">t</text><text transform="translate(87.41 0) scale(1.000 1)">i</text><text transform="translate(90.42 0) scale(1.117 1)">v</text><text transform="translate(97.37 0) scale(1.044 1)">e</text><text transform="translate(108.31 0) scale(0.908 1)">R</text><text transform="translate(116.47 0) scale(1.003 1)">a</text><text transform="translate(123.59 0) scale(1.220 1)">t</text><text transform="translate(128.00 0) scale(1.044 1)">e</text><text transform="translate(135.22 0) scale(1.106 1)">)</text></g>
<rect x="259.50" y="247.50" width="89.00" height="63.70" fill="#fff" stroke="#858585" stroke-width="1"/>
<path d="M262.00,254.70 H293.80" stroke="#0072BD" stroke-width="1.9"/>
<g transform="translate(296.50 258.20)" font-size="9.889" fill="#262626" stroke="#262626" stroke-width="0.20"><text transform="translate(0.00 0) scale(0.968 1)">A</text><text transform="translate(6.38 0) scale(0.877 1)">V</text><text transform="translate(12.17 0) scale(0.877 1)">A</text></g>
<path d="M262.00,266.98 H293.80" stroke="#D95319" stroke-width="1.9"/>
<g transform="translate(296.50 270.48)" font-size="9.889" fill="#262626" stroke="#262626" stroke-width="0.20"><text transform="translate(0.00 0) scale(1.080 1)">2</text><text transform="translate(5.94 0) scale(0.898 1)">S</text><text transform="translate(11.86 0) scale(0.912 1)">C</text><text transform="translate(21.35 0) scale(1.106 1)">(</text><text transform="translate(24.99 0) scale(0.912 1)">C</text><text transform="translate(31.50 0) scale(0.912 1)">C</text><text transform="translate(38.02 0) scale(0.894 1)">E</text><text transform="translate(43.92 0) scale(1.106 1)">)</text></g>
<path d="M262.00,279.26 H293.80" stroke="#77AC30" stroke-width="1.9"/>
<g transform="translate(296.50 282.76)" font-size="9.889" fill="#262626" stroke="#262626" stroke-width="0.20"><text transform="translate(0.00 0) scale(1.080 1)">2</text><text transform="translate(5.94 0) scale(0.898 1)">S</text><text transform="translate(11.86 0) scale(0.912 1)">C</text><text transform="translate(21.35 0) scale(1.106 1)">(</text><text transform="translate(24.99 0) scale(0.971 1)">B</text><text transform="translate(31.39 0) scale(0.890 1)">C</text><text transform="translate(37.74 0) scale(0.894 1)">E</text><text transform="translate(43.64 0) scale(1.106 1)">)</text></g>
<path d="M262.00,291.54 H293.80" stroke="#7E2F8E" stroke-width="1.9"/>
<g transform="translate(296.50 295.04)" font-size="9.889" fill="#262626" stroke="#262626" stroke-width="0.20"><text transform="translate(0.00 0) scale(0.983 1)">H</text><text transform="translate(7.02 0) scale(0.977 1)">M</text><text transform="translate(15.07 0) scale(0.945 1)">L</text></g>
<path d="M262.30,303.82 H293.80" stroke="#333" stroke-width="0.9" stroke-dasharray="1.6 1.87"/>
<g transform="translate(296.50 307.32)" font-size="9.889" fill="#262626" stroke="#262626" stroke-width="0.20"><text transform="translate(0.00 0) scale(1.106 1)">(</text><text transform="translate(3.64 0) scale(0.894 1)">E</text><text transform="translate(9.54 0) scale(0.894 1)">E</text><text transform="translate(15.44 0) scale(0.908 1)">R</text><text transform="translate(25.08 0) scale(1.000 1)">l</text><text transform="translate(27.68 0) scale(1.000 1)">i</text><text transform="translate(30.07 0) scale(1.076 1)">n</text><text transform="translate(35.99 0) scale(1.044 1)">e</text><text transform="translate(41.73 0) scale(1.106 1)">)</text></g>
<clipPath id="c396"><rect x="445.40" y="11.90" width="309.00" height="308.90"/></clipPath>
<path d="M599.50,12.50 V319.50 M446.00,166.50 H753.00" stroke="#f0f0f0" stroke-width="1" fill="none"/>
<path d="M599.50,320.10 v-3.20 M599.50,12.55 v3.20 M446.00,166.50 h3.20 M753.00,166.50 h-3.20" stroke="#858585" stroke-width="1" fill="none"/>
<path d="M445.50,12.55 H753.50 M446.00,12.55 V320.10 M753.00,12.55 V320.10" fill="none" stroke="#8c8c8c" stroke-width="1"/>
<path d="M445.50,320.10 H753.50" fill="none" stroke="#7c7c7c" stroke-width="1.15"/>
<g clip-path="url(#c396)" fill="none" stroke-linejoin="round" stroke-linecap="butt">
<path d="M405.1,320.5 L406.1,319.1 L407.2,317.7 L408.1,316.2 L409.1,314.7 L410.1,313.2 L411.2,311.9 L412.2,310.4 L413.0,308.7 L414.0,307.2 L415.2,306.0 L416.3,304.7 L417.5,303.3 L418.6,302.0 L419.6,300.5 L420.5,299.0 L421.4,297.4 L422.5,296.0 L423.6,294.7 L424.8,293.4 L425.8,292.0 L426.9,290.6 L427.9,289.2 L429.1,287.8 L430.2,286.5 L431.3,285.1 L432.3,283.7 L433.4,282.3 L434.4,280.9 L435.5,279.5 L436.6,278.1 L437.7,276.8 L439.0,275.6 L440.2,274.3 L441.2,272.9 L442.3,271.5 L443.3,270.1 L444.4,268.7 L445.5,267.3 L446.8,266.1 L448.0,264.9 L449.1,263.5 L450.2,262.1 L451.5,260.9 L452.8,259.8 L454.0,258.5 L455.0,257.1 L456.0,255.6 L457.0,254.2 L458.1,252.8 L459.4,251.6 L460.7,250.4 L461.9,249.2 L463.0,247.9 L464.3,246.6 L465.5,245.4 L466.6,244.0 L467.7,242.7 L468.9,241.4 L470.3,240.3 L471.6,239.2 L472.7,237.9 L473.8,236.4 L474.7,234.9 L475.9,233.6 L477.3,232.6 L478.7,231.5 L479.9,230.2 L480.9,228.8 L482.1,227.5 L483.4,226.3 L484.4,224.9 L485.5,223.5 L486.7,222.2 L487.9,221.0 L489.1,219.7 L490.3,218.5 L491.6,217.3 L493.0,216.2 L494.3,215.1 L495.6,213.9 L496.7,212.5 L497.8,211.2 L499.1,210.0 L500.4,208.8 L501.7,207.6 L502.8,206.4 L504.0,205.1 L505.3,203.9 L506.5,202.6 L507.6,201.3 L508.8,200.0 L510.1,198.8 L511.4,197.7 L512.8,196.6 L513.9,195.2 L515.0,193.9 L516.3,192.7 L517.5,191.4 L518.7,190.2 L520.0,189.1 L521.3,187.9 L522.6,186.7 L523.9,185.5 L525.1,184.3 L526.5,183.2 L527.9,182.2 L529.1,180.9 L530.1,179.4 L531.2,178.1 L532.6,177.0 L533.9,175.8 L535.0,174.4 L536.3,173.3 L537.8,172.3 L539.2,171.3 L540.6,170.1 L541.7,168.9 L543.0,167.7 L544.4,166.6 L545.6,165.3 L546.7,164.0 L547.9,162.7 L549.3,161.6 L550.5,160.4 L551.7,159.1 L552.8,157.7 L553.9,156.4 L555.1,155.1 L556.5,154.1 L557.8,152.9 L559.1,151.7 L560.3,150.5 L561.7,149.4 L563.2,148.4 L564.7,147.5 L566.1,146.4 L567.3,145.2 L568.6,144.0 L570.0,142.9 L571.4,141.9 L572.7,140.7 L573.9,139.4 L575.2,138.3 L576.7,137.3 L578.0,136.1 L579.2,134.9 L580.5,133.7 L581.8,132.5 L583.4,131.6 L584.9,130.7 L586.3,129.6 L587.6,128.5 L588.9,127.3 L590.2,126.2 L591.6,125.1 L593.1,124.1 L594.5,123.0 L595.8,121.9 L597.2,120.9 L598.7,119.9 L600.1,118.8 L601.5,117.7 L602.8,116.6 L604.1,115.4 L605.5,114.3 L606.9,113.3 L608.4,112.4 L610.0,111.5 L611.5,110.5 L612.8,109.3 L614.1,108.2 L615.5,107.1 L617.0,106.1 L618.5,105.1 L619.9,104.1 L621.4,103.1 L622.7,102.0 L624.1,100.9 L625.6,100.0 L627.1,99.0 L628.5,97.9 L629.8,96.7 L631.1,95.6 L632.5,94.6 L634.1,93.7 L635.6,92.7 L637.0,91.7 L638.5,90.7 L639.9,89.6 L641.3,88.6 L642.8,87.6 L644.4,86.7 L646.0,85.9 L647.6,85.0 L649.0,84.0 L650.4,82.8 L651.7,81.7 L653.2,80.7 L654.7,79.7 L656.2,78.7 L657.6,77.8 L659.3,77.0 L661.0,76.2 L662.4,75.2 L663.8,74.1 L665.4,73.2 L667.0,72.3 L668.4,71.3 L669.9,70.3 L671.5,69.4 L673.1,68.6 L674.6,67.7 L676.1,66.7 L677.6,65.7 L679.0,64.7 L680.6,63.8 L682.3,63.0 L683.8,62.0 L685.3,61.1 L686.8,60.1 L688.4,59.2 L690.0,58.4 L691.7,57.6 L693.2,56.6 L694.6,55.6 L696.2,54.8 L697.9,54.0 L699.6,53.2 L701.1,52.3 L702.8,51.4 L704.4,50.6 L705.9,49.6 L707.4,48.6 L708.9,47.8 L710.6,46.9 L712.2,46.1 L713.9,45.3 L715.5,44.5 L717.0,43.5 L718.5,42.5 L720.0,41.6 L721.5,40.6 L723.0,39.7 L724.6,38.7 L726.1,37.8 L727.7,37.0 L729.4,36.2 L731.0,35.4 L732.7,34.5 L734.4,33.7 L736.0,32.9 L737.5,31.9 L739.1,31.1 L740.8,30.3 L742.4,29.5 L744.0,28.6 L745.5,27.6 L747.0,26.7 L748.6,25.8 L750.3,25.0 L751.9,24.2 L753.5,23.3 L755.2,22.6 L757.0,21.9 L758.5,21.0 L760.1,20.0 L761.7,19.2 L763.3,18.4 L764.9,17.5 L766.5,16.6 L768.3,15.9 L770.0,15.2 L771.7,14.4 L773.2,13.4 L774.7,12.5 L776.4,11.7 L778.0,10.8 L779.7,10.1 L781.5,9.4 L783.2,8.6 L784.7,7.7 L786.3,6.8 L788.0,6.1 L789.7,5.3 L791.3,4.4 L792.8,3.4 L794.4,2.6" stroke="#0072BD" stroke-width="1.7"/>
<path d="M405.5,323.4 L406.4,321.8 L407.4,320.4 L408.3,318.8 L409.2,317.2 L410.1,315.7 L411.1,314.2 L412.2,312.8 L413.1,311.3 L413.9,309.7 L414.8,308.0 L415.8,306.6 L416.9,305.2 L418.0,303.8 L418.9,302.3 L419.9,300.8 L420.8,299.3 L421.6,297.6 L422.6,296.1 L423.7,294.7 L424.8,293.4 L425.8,292.0 L427.0,290.7 L428.0,289.2 L429.0,287.7 L430.1,286.4 L431.3,285.1 L432.2,283.6 L432.9,281.8 L433.8,280.2 L434.9,278.9 L436.1,277.6 L437.2,276.3 L438.3,274.9 L439.4,273.6 L440.5,272.2 L441.5,270.7 L442.5,269.2 L443.5,267.8 L444.6,266.4 L445.6,265.0 L446.7,263.6 L447.8,262.2 L449.0,260.9 L450.2,259.7 L451.3,258.3 L452.4,256.9 L453.5,255.6 L454.6,254.2 L455.7,252.9 L456.7,251.4 L457.7,249.9 L458.7,248.5 L459.7,247.0 L461.0,245.8 L462.3,244.6 L463.5,243.4 L464.6,242.1 L465.7,240.7 L466.8,239.3 L467.9,238.0 L469.0,236.5 L469.9,235.1 L471.1,233.8 L472.3,232.5 L473.5,231.2 L474.7,230.0 L475.9,228.7 L477.2,227.5 L478.4,226.3 L479.5,224.9 L480.6,223.5 L481.9,222.4 L483.2,221.2 L484.5,220.0 L485.7,218.8 L486.8,217.5 L487.8,216.0 L488.8,214.5 L490.1,213.4 L491.4,212.2 L492.5,210.8 L493.7,209.5 L494.9,208.2 L496.1,207.0 L497.3,205.7 L498.4,204.4 L499.6,203.1 L500.8,201.9 L502.1,200.7 L503.4,199.5 L504.6,198.3 L505.7,196.9 L506.8,195.6 L508.0,194.3 L509.3,193.1 L510.5,191.8 L511.7,190.6 L513.0,189.4 L514.3,188.3 L515.6,187.1 L516.8,185.8 L517.9,184.5 L519.1,183.1 L520.4,182.1 L521.9,181.1 L523.2,179.9 L524.4,178.6 L525.4,177.2 L526.6,175.9 L527.9,174.7 L529.2,173.5 L530.4,172.3 L531.6,171.0 L532.8,169.8 L534.2,168.7 L535.6,167.6 L536.7,166.3 L537.9,165.0 L539.1,163.8 L540.5,162.7 L541.9,161.7 L543.3,160.5 L544.4,159.2 L545.7,158.1 L547.1,157.0 L548.3,155.7 L549.4,154.4 L550.6,153.1 L551.9,151.9 L553.3,150.8 L554.7,149.8 L556.1,148.8 L557.4,147.6 L558.7,146.4 L560.0,145.2 L561.2,144.0 L562.5,142.8 L563.7,141.6 L565.0,140.3 L566.1,139.0 L567.3,137.7 L568.6,136.6 L570.1,135.6 L571.5,134.5 L572.8,133.4 L574.0,132.1 L575.3,130.9 L576.7,129.9 L578.1,128.8 L579.4,127.7 L580.8,126.6 L582.1,125.4 L583.4,124.3 L584.8,123.2 L586.3,122.2 L587.6,121.1 L588.9,119.9 L590.2,118.8 L591.6,117.7 L593.0,116.6 L594.3,115.5 L595.7,114.4 L596.9,113.1 L598.0,111.8 L599.2,110.5 L600.5,109.4 L602.0,108.3 L603.4,107.3 L604.8,106.2 L606.3,105.3 L607.9,104.4 L609.3,103.3 L610.5,102.1 L611.8,100.9 L613.3,100.0 L614.7,98.9 L616.1,97.9 L617.5,96.8 L619.0,95.8 L620.3,94.7 L621.7,93.6 L623.2,92.6 L624.6,91.5 L625.8,90.3 L627.1,89.1 L628.6,88.1 L630.0,87.1 L631.4,86.1 L632.8,85.0 L634.2,83.9 L635.7,83.0 L637.2,82.0 L638.6,80.9 L639.8,79.7 L641.1,78.5 L642.6,77.5 L644.2,76.7 L645.9,75.8 L647.2,74.7 L648.4,73.5 L649.8,72.4 L651.2,71.3 L652.6,70.3 L654.2,69.4 L655.8,68.6 L657.3,67.6 L658.7,66.5 L660.1,65.4 L661.5,64.4 L663.1,63.5 L664.5,62.5 L665.9,61.4 L667.4,60.4 L669.0,59.5 L670.5,58.6 L672.0,57.6 L673.3,56.5 L674.5,55.2 L676.0,54.2 L677.7,53.5 L679.3,52.6 L680.7,51.6 L682.1,50.5 L683.4,49.3 L684.8,48.3 L686.5,47.5 L688.3,46.8 L690.0,46.0 L691.5,45.1 L692.9,44.1 L694.4,43.0 L695.8,42.0 L697.3,41.0 L698.9,40.1 L700.4,39.2 L701.9,38.2 L703.4,37.3 L705.1,36.6 L706.7,35.6 L708.2,34.7 L709.8,33.8 L711.3,32.8 L712.6,31.7 L714.1,30.7 L715.8,29.9 L717.5,29.2 L719.1,28.3 L720.6,27.4 L722.1,26.5 L723.7,25.5 L725.2,24.6 L726.8,23.7 L728.4,22.9 L729.9,21.9 L731.5,21.0 L733.1,20.1 L734.7,19.3 L736.3,18.4 L737.9,17.6 L739.5,16.7 L741.0,15.8 L742.6,14.8 L744.3,14.1 L746.0,13.4 L747.6,12.4 L749.1,11.5 L750.7,10.7 L752.3,9.8 L754.0,9.0 L755.6,8.2 L757.2,7.3 L758.7,6.4 L760.4,5.6 L762.2,4.9 L763.8,4.1 L765.4,3.1 L767.0,2.3 L768.6,1.4 L770.1,0.5 L772.0,-0.1 L773.7,-0.9 L775.0,-2.0 L776.6,-2.9 L778.3,-3.7 L779.9,-4.5 L781.6,-5.2 L783.4,-5.9 L785.2,-6.6 L786.9,-7.4 L788.5,-8.2 L790.1,-9.1 L791.7,-10.0" stroke="#D95319" stroke-width="1.7"/>
<path d="M405.4,296.2 L406.5,294.8 L407.4,293.3 L408.3,291.7 L409.1,290.0 L410.2,288.6 L411.3,287.3 L412.3,285.8 L413.2,284.3 L414.2,282.8 L415.3,281.4 L416.2,279.9 L417.1,278.3 L418.1,276.8 L419.3,275.6 L420.5,274.3 L421.6,272.9 L422.7,271.6 L423.7,270.1 L424.5,268.5 L425.4,266.9 L426.5,265.6 L427.7,264.2 L428.7,262.8 L429.8,261.4 L431.0,260.1 L432.0,258.7 L433.0,257.3 L434.1,255.9 L435.2,254.5 L436.3,253.2 L437.3,251.7 L438.2,250.1 L439.1,248.6 L440.2,247.2 L441.3,245.9 L442.5,244.6 L443.8,243.4 L445.0,242.1 L446.2,240.9 L447.4,239.6 L448.4,238.2 L449.3,236.6 L450.3,235.2 L451.5,233.8 L452.6,232.5 L453.9,231.3 L455.1,230.0 L456.2,228.7 L457.4,227.4 L458.4,226.0 L459.5,224.6 L460.7,223.4 L461.9,222.1 L463.0,220.7 L464.1,219.3 L465.3,218.1 L466.5,216.8 L467.7,215.6 L469.0,214.4 L470.2,213.1 L471.4,211.8 L472.6,210.6 L473.7,209.3 L474.9,208.0 L476.1,206.7 L477.3,205.4 L478.4,204.1 L479.7,203.0 L481.2,201.9 L482.5,200.8 L483.6,199.5 L484.7,198.1 L485.9,196.8 L487.1,195.5 L488.2,194.2 L489.4,193.0 L490.6,191.7 L491.8,190.4 L493.1,189.2 L494.2,187.9 L495.3,186.5 L496.6,185.4 L498.1,184.3 L499.3,183.1 L500.4,181.7 L501.6,180.4 L502.9,179.3 L504.3,178.2 L505.5,177.0 L506.7,175.7 L507.9,174.5 L509.3,173.3 L510.5,172.1 L511.7,170.9 L513.0,169.7 L514.2,168.5 L515.4,167.2 L516.6,165.9 L517.9,164.8 L519.3,163.6 L520.5,162.4 L521.8,161.2 L523.1,160.1 L524.5,159.0 L525.8,157.9 L527.0,156.6 L528.2,155.3 L529.4,154.1 L530.7,152.9 L532.1,151.8 L533.4,150.6 L534.5,149.3 L535.6,148.0 L536.9,146.8 L538.3,145.8 L539.7,144.6 L541.0,143.5 L542.3,142.3 L543.5,141.1 L544.9,140.0 L546.3,139.0 L547.6,137.7 L548.7,136.4 L549.9,135.1 L551.1,133.9 L552.5,132.8 L553.7,131.6 L555.0,130.4 L556.3,129.2 L557.6,128.0 L558.9,126.9 L560.3,125.8 L561.6,124.6 L562.9,123.5 L564.2,122.3 L565.4,121.1 L566.7,119.9 L568.1,118.8 L569.3,117.6 L570.6,116.4 L571.9,115.2 L573.2,114.1 L574.6,113.0 L575.9,111.9 L577.1,110.6 L578.3,109.3 L579.7,108.3 L581.2,107.3 L582.5,106.1 L583.8,104.9 L585.1,103.8 L586.4,102.6 L587.8,101.6 L589.2,100.6 L590.6,99.5 L592.0,98.4 L593.5,97.4 L594.8,96.2 L596.0,95.0 L597.2,93.7 L598.4,92.5 L599.8,91.4 L601.3,90.4 L602.8,89.5 L604.4,88.6 L605.9,87.6 L607.3,86.5 L608.5,85.3 L609.8,84.1 L611.2,83.0 L612.7,82.1 L614.2,81.1 L615.6,80.1 L616.9,78.9 L618.2,77.8 L619.6,76.7 L621.0,75.6 L622.3,74.5 L623.8,73.5 L625.4,72.6 L626.9,71.7 L628.3,70.7 L629.7,69.6 L631.1,68.5 L632.5,67.4 L633.9,66.4 L635.3,65.3 L636.8,64.4 L638.4,63.5 L640.0,62.5 L641.5,61.6 L642.9,60.6 L644.3,59.5 L645.7,58.5 L647.2,57.5 L648.8,56.6 L650.3,55.6 L651.7,54.6 L653.3,53.7 L654.8,52.8 L656.4,51.9 L658.0,51.0 L659.5,50.0 L660.9,49.0 L662.3,47.9 L663.8,47.0 L665.5,46.2 L667.2,45.4 L668.7,44.4 L670.1,43.4 L671.6,42.4 L673.1,41.4 L674.6,40.5 L676.2,39.6 L677.6,38.6 L679.1,37.6 L680.7,36.8 L682.5,36.1 L684.1,35.2 L685.7,34.4 L687.3,33.5 L688.7,32.5 L690.1,31.4 L691.7,30.5 L693.3,29.6 L694.8,28.7 L696.4,27.8 L698.0,26.9 L699.6,26.1 L701.2,25.3 L702.9,24.5 L704.7,23.8 L706.5,23.1 L708.1,22.3 L709.7,21.4 L711.3,20.5 L712.9,19.7 L714.5,18.8 L716.0,17.8 L717.4,16.8 L719.1,16.0 L720.8,15.3 L722.5,14.4 L724.1,13.6 L725.7,12.8 L727.4,12.0 L729.1,11.2 L730.8,10.5 L732.5,9.7 L734.2,8.9 L735.9,8.1 L737.5,7.3 L739.1,6.4 L740.7,5.5 L742.3,4.7 L744.0,4.0 L745.8,3.3 L747.5,2.6 L749.3,1.9 L751.0,1.1 L752.7,0.3 L754.3,-0.5 L756.0,-1.3 L757.7,-2.1 L759.3,-2.9 L760.8,-3.9 L762.5,-4.7 L764.4,-5.2 L766.2,-5.9 L767.8,-6.7 L769.4,-7.6 L771.2,-8.3 L773.2,-8.8 L775.0,-9.4 L776.8,-10.0 L778.6,-10.7 L780.3,-11.5 L781.9,-12.3 L783.5,-13.2 L785.1,-14.1 L786.8,-14.9" stroke="#77AC30" stroke-width="1.7"/>
<path d="M420.6,355.8 L421.5,354.2 L422.5,352.8 L423.7,351.4 L424.7,350.0 L425.4,348.2 L426.3,346.6 L427.3,345.2 L428.2,343.6 L429.0,342.0 L429.9,340.4 L431.0,339.0 L432.1,337.7 L433.1,336.2 L434.1,334.8 L435.2,333.4 L436.2,331.9 L437.2,330.5 L438.2,329.0 L439.2,327.5 L440.2,326.0 L441.3,324.7 L442.5,323.5 L443.6,322.1 L444.7,320.7 L445.7,319.2 L446.7,317.8 L447.8,316.4 L449.0,315.1 L450.2,313.8 L451.4,312.6 L452.5,311.3 L453.5,309.8 L454.5,308.4 L455.8,307.1 L457.1,306.0 L458.4,304.8 L459.5,303.5 L460.5,302.0 L461.5,300.5 L462.6,299.1 L463.8,297.9 L465.0,296.7 L466.1,295.3 L467.3,294.0 L468.5,292.8 L469.6,291.4 L470.8,290.2 L472.1,289.0 L473.2,287.6 L474.2,286.2 L475.3,284.8 L476.5,283.6 L477.7,282.3 L478.8,280.9 L479.8,279.4 L481.0,278.2 L482.4,277.1 L483.6,275.8 L484.7,274.5 L486.0,273.3 L487.3,272.1 L488.4,270.8 L489.5,269.4 L490.8,268.2 L492.0,267.0 L493.3,265.8 L494.6,264.7 L495.9,263.5 L496.9,262.0 L497.9,260.5 L499.0,259.2 L500.1,257.8 L501.3,256.6 L502.7,255.5 L504.1,254.4 L505.4,253.3 L506.7,252.1 L507.8,250.7 L508.9,249.4 L510.1,248.1 L511.4,246.9 L512.7,245.8 L513.9,244.5 L515.0,243.2 L516.2,241.9 L517.5,240.7 L518.8,239.5 L520.0,238.3 L521.2,237.0 L522.5,235.8 L523.7,234.6 L525.0,233.4 L526.0,232.0 L527.1,230.7 L528.4,229.5 L529.7,228.3 L530.9,227.1 L532.3,226.0 L533.7,224.9 L535.0,223.7 L536.2,222.4 L537.4,221.2 L538.8,220.2 L540.1,219.0 L541.3,217.7 L542.5,216.4 L543.8,215.3 L545.1,214.1 L546.4,212.9 L547.5,211.6 L548.6,210.2 L550.0,209.1 L551.4,208.0 L552.5,206.8 L553.7,205.4 L554.8,204.1 L556.2,203.0 L557.6,201.9 L558.8,200.7 L560.1,199.5 L561.4,198.4 L562.7,197.2 L564.0,196.1 L565.4,195.0 L566.7,193.8 L568.0,192.7 L569.3,191.5 L570.6,190.3 L571.8,189.1 L573.1,187.9 L574.3,186.6 L575.5,185.4 L576.8,184.2 L578.1,183.1 L579.4,181.9 L580.7,180.7 L582.0,179.6 L583.4,178.5 L584.7,177.3 L586.0,176.2 L587.4,175.1 L588.9,174.1 L590.0,172.8 L591.2,171.5 L592.4,170.3 L593.8,169.1 L595.0,167.9 L596.3,166.8 L597.7,165.7 L599.1,164.6 L600.2,163.3 L601.3,161.9 L602.5,160.7 L603.9,159.6 L605.3,158.5 L606.6,157.4 L607.9,156.2 L609.4,155.2 L610.8,154.1 L612.1,153.0 L613.5,151.9 L614.9,150.8 L616.1,149.6 L617.4,148.4 L618.7,147.2 L620.1,146.1 L621.5,145.1 L622.9,144.0 L624.2,142.9 L625.5,141.7 L626.7,140.5 L628.1,139.4 L629.6,138.4 L631.0,137.4 L632.4,136.3 L633.8,135.2 L635.1,134.1 L636.4,132.9 L637.7,131.7 L639.0,130.6 L640.3,129.4 L641.8,128.5 L643.4,127.6 L644.7,126.5 L646.0,125.2 L647.4,124.2 L648.9,123.3 L650.3,122.2 L651.5,120.9 L652.8,119.7 L654.1,118.6 L655.5,117.5 L657.0,116.6 L658.6,115.7 L660.2,114.8 L661.8,114.0 L663.2,112.9 L664.3,111.6 L665.6,110.4 L667.1,109.4 L668.6,108.4 L670.0,107.4 L671.3,106.2 L672.7,105.1 L674.2,104.2 L675.8,103.3 L677.1,102.2 L678.5,101.1 L680.1,100.2 L681.7,99.3 L683.1,98.3 L684.6,97.3 L686.2,96.5 L687.8,95.6 L689.2,94.6 L690.5,93.4 L691.8,92.2 L693.1,91.1 L694.6,90.1 L696.3,89.4 L698.1,88.6 L699.7,87.7 L701.1,86.7 L702.4,85.6 L703.8,84.5 L705.4,83.6 L706.9,82.7 L708.3,81.6 L709.8,80.6 L711.4,79.7 L713.0,79.0 L714.6,78.1 L716.1,77.0 L717.5,76.0 L719.0,75.1 L720.5,74.1 L722.0,73.1 L723.6,72.2 L725.2,71.4 L726.8,70.5 L728.3,69.6 L729.8,68.6 L731.3,67.6 L732.8,66.7 L734.4,65.8 L736.0,64.9 L737.5,64.0 L738.9,63.0 L740.4,62.0 L741.9,61.0 L743.3,60.0 L744.9,59.1 L746.7,58.4 L748.4,57.7 L749.9,56.7 L751.2,55.5 L752.6,54.4 L754.1,53.5 L755.8,52.7 L757.5,51.9 L759.2,51.2 L760.9,50.5 L762.4,49.5 L763.8,48.4 L765.3,47.4 L766.9,46.6 L768.6,45.8 L770.2,45.0 L771.8,44.1 L773.2,43.0 L774.7,42.0 L776.3,41.2 L777.9,40.3 L779.4,39.4 L781.1,38.6 L782.7,37.7 L784.2,36.8 L785.9,36.0 L787.5,35.2 L789.1,34.3 L790.7,33.4 L792.3,32.5 L793.8,31.6" stroke="#7E2F8E" stroke-width="1.7"/>
<path d="M446.25,13.00 L753.25,320.00" stroke="#262626" stroke-width="0.95" stroke-dasharray="1.8 2.37" stroke-dashoffset="-1.02"/>
</g>
<rect x="752.50" y="319.00" width="1" height="1" fill="#1a1a1a"/>
<g transform="translate(430.83 334.50)" font-size="11.303" fill="#262626"><text transform="translate(0.00 0) scale(1.080 1)">0</text><text transform="translate(6.91 0) scale(1.000 1)">.</text><text transform="translate(10.43 0) scale(1.000 1)">1</text><text transform="translate(16.96 0) scale(1.080 1)">2</text><text transform="translate(23.75 0) scale(1.080 1)">5</text></g>
<g transform="translate(587.72 334.50)" font-size="11.303" fill="#262626"><text transform="translate(0.00 0) scale(1.080 1)">0</text><text transform="translate(6.91 0) scale(1.000 1)">.</text><text transform="translate(10.18 0) scale(1.080 1)">2</text><text transform="translate(16.96 0) scale(1.080 1)">5</text></g>
<g transform="translate(737.83 334.50)" font-size="11.303" fill="#262626"><text transform="translate(0.00 0) scale(1.080 1)">0</text><text transform="translate(6.91 0) scale(1.000 1)">.</text><text transform="translate(10.18 0) scale(1.080 1)">3</text><text transform="translate(16.96 0) scale(1.080 1)">7</text><text transform="translate(23.75 0) scale(1.080 1)">5</text></g>
<g transform="translate(410.76 323.80)" font-size="11.303" fill="#262626"><text transform="translate(0.00 0) scale(1.080 1)">0</text><text transform="translate(6.91 0) scale(1.000 1)">.</text><text transform="translate(10.18 0) scale(1.080 1)">6</text><text transform="translate(16.96 0) scale(1.080 1)">2</text><text transform="translate(23.75 0) scale(1.080 1)">5</text></g>
<g transform="translate(417.55 170.30)" font-size="11.303" fill="#262626"><text transform="translate(0.00 0) scale(1.080 1)">0</text><text transform="translate(6.91 0) scale(1.000 1)">.</text><text transform="translate(10.18 0) scale(1.080 1)">7</text><text transform="translate(16.96 0) scale(1.080 1)">5</text></g>
<g transform="translate(410.76 16.80)" font-size="11.303" fill="#262626"><text transform="translate(0.00 0) scale(1.080 1)">0</text><text transform="translate(6.91 0) scale(1.000 1)">.</text><text transform="translate(10.18 0) scale(1.080 1)">8</text><text transform="translate(16.96 0) scale(1.080 1)">7</text><text transform="translate(23.75 0) scale(1.080 1)">5</text></g>
<g transform="translate(527.35 348.30)" font-size="12.432" fill="#262626"><text transform="translate(0.00 0) scale(0.889 1)">F</text><text transform="translate(6.72 0) scale(0.860 1)">P</text><text transform="translate(13.82 0) scale(0.908 1)">R</text><text transform="translate(25.71 0) scale(1.106 1)">(</text><text transform="translate(30.28 0) scale(0.889 1)">F</text><text transform="translate(37.03 0) scale(0.884 1)">a</text><text transform="translate(43.39 0) scale(1.000 1)">l</text><text transform="translate(46.41 0) scale(0.983 1)">s</text><text transform="translate(52.52 0) scale(1.044 1)">e</text><text transform="translate(63.44 0) scale(0.860 1)">P</text><text transform="translate(70.54 0) scale(0.978 1)">o</text><text transform="translate(77.30 0) scale(0.983 1)">s</text><text transform="translate(83.66 0) scale(1.000 1)">i</text><text transform="translate(86.87 0) scale(1.220 1)">t</text><text transform="translate(91.52 0) scale(1.000 1)">i</text><text transform="translate(94.53 0) scale(1.117 1)">v</text><text transform="translate(101.48 0) scale(1.044 1)">e</text><text transform="translate(112.43 0) scale(0.908 1)">R</text><text transform="translate(120.58 0) scale(1.003 1)">a</text><text transform="translate(127.70 0) scale(1.220 1)">t</text><text transform="translate(132.11 0) scale(1.044 1)">e</text><text transform="translate(139.33 0) scale(1.106 1)">)</text></g>
<g transform="rotate(-90 406.10 167.00) translate(336.20 167.00)" font-size="12.432" fill="#262626"><text transform="translate(0.00 0) scale(0.944 1)">T</text><text transform="translate(7.14 0) scale(0.860 1)">P</text><text transform="translate(14.24 0) scale(0.908 1)">R</text><text transform="translate(26.12 0) scale(1.106 1)">(</text><text transform="translate(30.70 0) scale(0.944 1)">T</text><text transform="translate(37.64 0) scale(0.860 1)">r</text><text transform="translate(40.97 0) scale(1.076 1)">u</text><text transform="translate(48.40 0) scale(1.044 1)">e</text><text transform="translate(59.33 0) scale(0.860 1)">P</text><text transform="translate(66.43 0) scale(0.978 1)">o</text><text transform="translate(73.19 0) scale(0.983 1)">s</text><text transform="translate(79.55 0) scale(1.000 1)">i</text><text transform="translate(82.75 0) scale(1.220 1)">t</text><text transform="translate(87.41 0) scale(1.000 1)">i</text><text transform="translate(90.42 0) scale(1.117 1)">v</text><text transform="translate(97.37 0) scale(1.044 1)">e</text><text transform="translate(108.31 0) scale(0.908 1)">R</text><text transform="translate(116.47 0) scale(1.003 1)">a</text><text transform="translate(123.59 0) scale(1.220 1)">t</text><text transform="translate(128.00 0) scale(1.044 1)">e</text><text transform="translate(135.22 0) scale(1.106 1)">)</text></g>
<rect x="655.80" y="247.50" width="89.00" height="63.70" fill="#fff" stroke="#858585" stroke-width="1"/>
<path d="M658.30,254.70 H690.10" stroke="#0072BD" stroke-width="1.9"/>
<g transform="translate(692.80 258.20)" font-size="9.889" fill="#262626" stroke="#262626" stroke-width="0.20"><text transform="translate(0.00 0) scale(0.968 1)">A</text><text transform="translate(6.38 0) scale(0.877 1)">V</text><text transform="translate(12.17 0) scale(0.877 1)">A</text></g>
<path d="M658.30,266.98 H690.10" stroke="#D95319" stroke-width="1.9"/>
<g transform="translate(692.80 270.48)" font-size="9.889" fill="#262626" stroke="#262626" stroke-width="0.20"><text transform="translate(0.00 0) scale(1.080 1)">2</text><text transform="translate(5.94 0) scale(0.898 1)">S</text><text transform="translate(11.86 0) scale(0.912 1)">C</text><text transform="translate(21.35 0) scale(1.106 1)">(</text><text transform="translate(24.99 0) scale(0.912 1)">C</text><text transform="translate(31.50 0) scale(0.912 1)">C</text><text transform="translate(38.02 0) scale(0.894 1)">E</text><text transform="translate(43.92 0) scale(1.106 1)">)</text></g>
<path d="M658.30,279.26 H690.10" stroke="#77AC30" stroke-width="1.9"/>
<g transform="translate(692.80 282.76)" font-size="9.889" fill="#262626" stroke="#262626" stroke-width="0.20"><text transform="translate(0.00 0) scale(1.080 1)">2</text><text transform="translate(5.94 0) scale(0.898 1)">S</text><text transform="translate(11.86 0) scale(0.912 1)">C</text><text transform="translate(21.35 0) scale(1.106 1)">(</text><text transform="translate(24.99 0) scale(0.971 1)">B</text><text transform="translate(31.39 0) scale(0.890 1)">C</text><text transform="translate(37.74 0) scale(0.894 1)">E</text><text transform="translate(43.64 0) scale(1.106 1)">)</text></g>
<path d="M658.30,291.54 H690.10" stroke="#7E2F8E" stroke-width="1.9"/>
<g transform="translate(692.80 295.04)" font-size="9.889" fill="#262626" stroke="#262626" stroke-width="0.20"><text transform="translate(0.00 0) scale(0.983 1)">H</text><text transform="translate(7.02 0) scale(0.977 1)">M</text><text transform="translate(15.07 0) scale(0.945 1)">L</text></g>
<path d="M658.60,303.82 H690.10" stroke="#333" stroke-width="0.9" stroke-dasharray="1.6 1.87"/>
<g transform="translate(692.80 307.32)" font-size="9.889" fill="#262626" stroke="#262626" stroke-width="0.20"><text transform="translate(0.00 0) scale(1.106 1)">(</text><text transform="translate(3.64 0) scale(0.894 1)">E</text><text transform="translate(9.54 0) scale(0.894 1)">E</text><text transform="translate(15.44 0) scale(0.908 1)">R</text><text transform="translate(25.08 0) scale(1.000 1)">l</text><text transform="translate(27.68 0) scale(1.000 1)">i</text><text transform="translate(30.07 0) scale(1.076 1)">n</text><text transform="translate(35.99 0) scale(1.044 1)">e</text><text transform="translate(41.73 0) scale(1.106 1)">)</text></g>
</svg>
</body></html>
